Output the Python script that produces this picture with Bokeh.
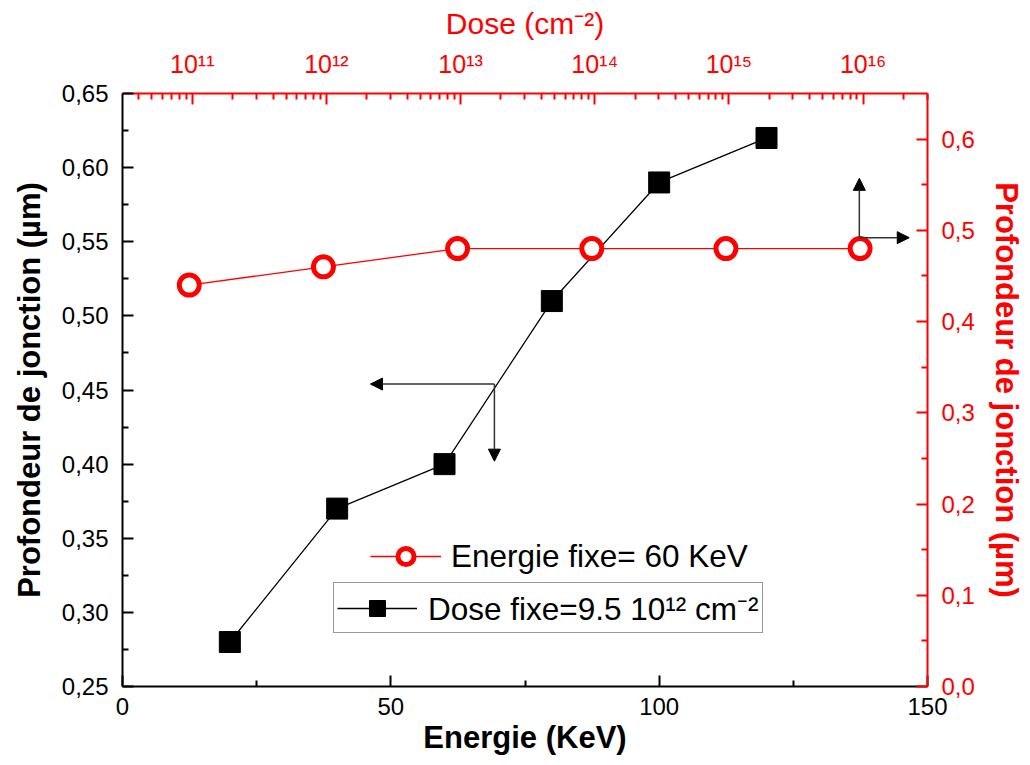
from bokeh.plotting import figure
from bokeh.models import (Range1d, LinearAxis, LogAxis, LogScale, FixedTicker,
                          CustomJSTickFormatter, Legend, LegendItem, Arrow, NormalHead)
from bokeh.embed import file_html
from bokeh.resources import INLINE

# ---- data ----
energie = [20, 40, 60, 80, 100, 120]                  # KeV (bottom axis)
prof_energie = [0.28, 0.37, 0.40, 0.51, 0.59, 0.62]    # µm (left axis)

dose = [9.5e10, 9.5e11, 9.5e12, 9.5e13, 9.5e14, 9.5e15]  # cm^-2 (top axis)
prof_dose = [0.44, 0.46, 0.48, 0.48, 0.48, 0.48]          # µm (right axis)

dose_ticks = [1e11, 1e12, 1e13, 1e14, 1e15, 1e16]

# arrows (data coordinates of the pointer annotations)
arrow_left_origin = (69.3, 0.454)
arrow_left_ends = [(46.2, 0.454), (69.3, 0.402)]
arrow_right_origin = (137.3, 0.492)
arrow_right_ends = [(137.3, 0.557), (146.6, 0.492)]

FONT = "Liberation Sans"
RED = "#ff0000"

p = figure(width=1030, height=765, output_backend="svg", toolbar_location=None,
           x_range=Range1d(0, 150), y_range=Range1d(0.25, 0.65),
           extra_x_ranges={"dose": Range1d(10**10.48, 10**16.48)},
           extra_x_scales={"dose": LogScale()},
           extra_y_ranges={"right": Range1d(0.0, 0.65)},
           min_border_left=122, min_border_right=103,
           min_border_top=93, min_border_bottom=79)
p.outline_line_color = None
p.xgrid.visible = False
p.ygrid.visible = False
p.background_fill_color = "white"
p.border_fill_color = "white"

def style_axis(ax, color, standoff, label_standoff, bold=True, title_size="31px",
               label_size="24px"):
    ax.axis_line_color = color
    ax.axis_line_width = 2
    ax.major_tick_line_color = color
    ax.minor_tick_line_color = color
    ax.major_tick_line_width = 2
    ax.minor_tick_line_width = 2
    ax.major_tick_in = 11
    ax.major_tick_out = 0
    ax.minor_tick_in = 6
    ax.minor_tick_out = 0
    ax.major_label_text_font = FONT
    ax.major_label_text_font_size = label_size
    ax.major_label_text_color = color
    ax.major_label_standoff = standoff
    ax.axis_label_text_font = FONT
    ax.axis_label_text_font_size = title_size
    ax.axis_label_text_font_style = "bold" if bold else "normal"
    ax.axis_label_text_color = color
    ax.axis_label_standoff = label_standoff

# bottom axis
xb = p.xaxis[0]
xb.ticker = FixedTicker(ticks=[0, 50, 100, 150], minor_ticks=[25, 75, 125])
xb.axis_label = "Energie (KeV)"
style_axis(xb, "black", 11, 2)

# left axis
yl = p.yaxis[0]
yl.ticker = FixedTicker(ticks=[0.25 + 0.05 * i for i in range(9)],
                        minor_ticks=[0.275 + 0.05 * i for i in range(8)])
yl.formatter = CustomJSTickFormatter(code="return tick.toFixed(2).replace('.', ',');")
yl.axis_label = "Profondeur de jonction (µm)"
style_axis(yl, "black", 14, 12)

# right axis
yr = LinearAxis(y_range_name="right")
yr.ticker = FixedTicker(ticks=[0.1 * i for i in range(7)],
                        minor_ticks=[0.05 + 0.1 * i for i in range(7)])
yr.formatter = CustomJSTickFormatter(code="return tick.toFixed(1).replace('.', ',');")
yr.axis_label = "Profondeur de jonction (µm)"
style_axis(yr, RED, 14, 11)
p.add_layout(yr, "right")

# top axis (log)
xt = LogAxis(x_range_name="dose")
xt.ticker = FixedTicker(ticks=dose_ticks,
                        minor_ticks=[m * 10**e for e in range(10, 17) for m in range(2, 10)])
xt.formatter = CustomJSTickFormatter(code="""
const e = Math.round(Math.log10(tick));
const m = {'0':'\u2070','1':'\u00b9','2':'\u00b2','3':'\u00b3','4':'\u2074','5':'\u2075',
           '6':'\u2076','7':'\u2077','8':'\u2078','9':'\u2079','-':'\u207b'};
return '10' + String(e).split('').map(c => m[c]).join('');
""")
xt.axis_label = "Dose (cm\u207b\u00b2)"
style_axis(xt, RED, 16, 7, bold=False, title_size="30px", label_size="25px")
p.add_layout(xt, "above")

# series: dose fixe (black squares)
bl = p.line(energie, prof_energie, line_color="black", line_width=1.3)
bs = p.scatter(energie, prof_energie, marker="square", size=21,
               fill_color="black", line_color="black")

# series: energie fixe (red circles)
rl = p.line(dose, prof_dose, x_range_name="dose", y_range_name="right",
            line_color=RED, line_width=1.3)
rs = p.scatter(dose, prof_dose, x_range_name="dose", y_range_name="right",
               marker="circle", size=20, fill_color="white",
               line_color=RED, line_width=5)

# arrows
for (xe, ye) in arrow_left_ends:
    p.add_layout(Arrow(end=NormalHead(size=12, fill_color="black", line_color="black"),
                       x_start=arrow_left_origin[0], y_start=arrow_left_origin[1],
                       x_end=xe, y_end=ye, line_color="#333333", line_width=1.5))
for (xe, ye) in arrow_right_ends:
    p.add_layout(Arrow(end=NormalHead(size=12, fill_color="black", line_color="black"),
                       x_start=arrow_right_origin[0], y_start=arrow_right_origin[1],
                       x_end=xe, y_end=ye, line_color="#333333", line_width=1.5,
                       y_range_name="right"))

# legends
leg_red = Legend(items=[LegendItem(label="Energie fixe= 60 KeV", renderers=[rl, rs])],
                 location=(245, 107), margin=0, padding=3,
                 glyph_width=71, glyph_height=40, label_standoff=10,
                 label_text_font=FONT, label_text_font_size="31.5px",
                 label_text_color="black",
                 border_line_alpha=0, background_fill_alpha=0)
leg_blk = Legend(items=[LegendItem(label="Dose fixe=9.5 10\u00b9\u00b2 cm\u207b\u00b2",
                                   renderers=[bl, bs])],
                 location=(211, 53), margin=0, padding=3,
                 glyph_width=80, glyph_height=40, label_standoff=11,
                 label_text_font=FONT, label_text_font_size="31.5px",
                 label_text_color="black",
                 border_line_color="#333333", border_line_width=1,
                 background_fill_color="white", background_fill_alpha=1)
p.add_layout(leg_red, "center")
p.add_layout(leg_blk, "center")

open("out.html", "w").write(file_html(p, INLINE))
